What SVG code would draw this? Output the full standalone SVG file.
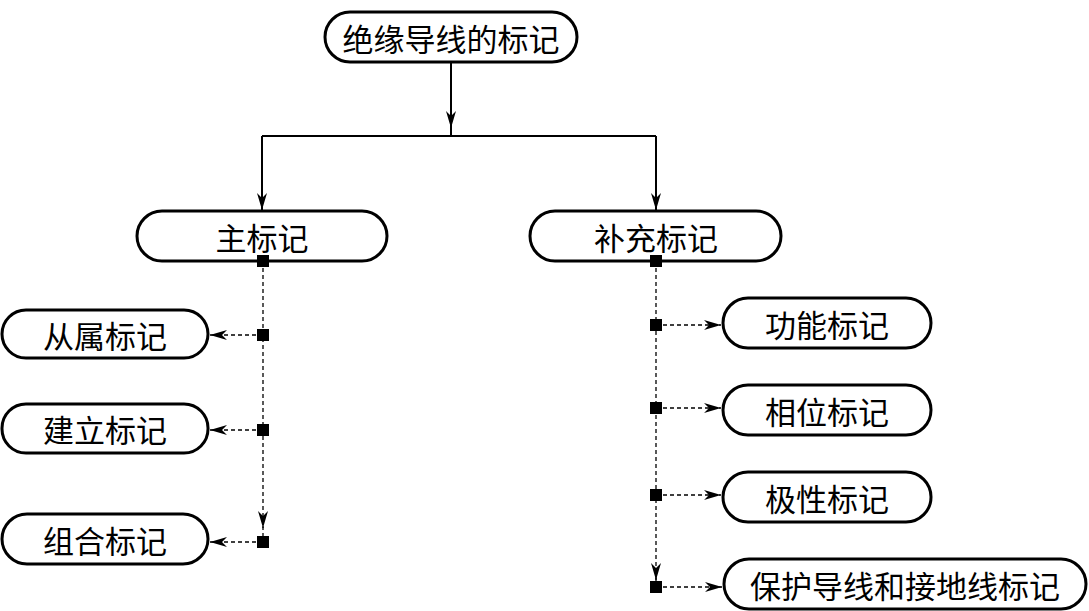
<svg xmlns="http://www.w3.org/2000/svg" width="1089" height="611" viewBox="0 0 1089 611">
<style>
.node{fill:#fff;stroke:#000;stroke-width:3}
.lbl{font-family:"Noto Sans CJK SC","Liberation Serif",serif;font-size:31px;fill:#000;text-anchor:middle;dominant-baseline:central}
.solid{fill:none;stroke:#000;stroke-width:2}
.dash{fill:none;stroke:#000;stroke-width:1.3;stroke-dasharray:4 3}
.sq{fill:#000}
</style>
<defs>
<marker id="arr" markerUnits="userSpaceOnUse" viewBox="0 -6 18 12" markerWidth="18" markerHeight="12" refX="17" refY="0" orient="auto">
<path d="M17,0 L0,-5 L5,0 L0,5 Z" fill="#000"/>
</marker>
</defs>
<rect width="1089" height="611" fill="#fff"/>
<g id="connectors">
<path class="solid" d="M451 62 V128" marker-end="url(#arr)"/>
<path class="solid" d="M451 126 V136 M262 136 H656"/>
<path class="solid" d="M262 136 V210" marker-end="url(#arr)"/>
<path class="solid" d="M656 136 V210" marker-end="url(#arr)"/>
<path class="dash" d="M263 261 V528" marker-end="url(#arr)"/>
<path class="dash" d="M263 526 V542"/>
<path class="dash" d="M263 335 H210" marker-end="url(#arr)"/>
<path class="dash" d="M263 430 H210" marker-end="url(#arr)"/>
<path class="dash" d="M263 542 H210" marker-end="url(#arr)"/>
<path class="dash" d="M656 261 V580" marker-end="url(#arr)"/>
<path class="dash" d="M656 578 V587"/>
<path class="dash" d="M656 325 H721" marker-end="url(#arr)"/>
<path class="dash" d="M656 408 H721" marker-end="url(#arr)"/>
<path class="dash" d="M656 495 H721" marker-end="url(#arr)"/>
<path class="dash" d="M656 587 H722" marker-end="url(#arr)"/>
</g>
<g id="n-root"><rect class="node" x="325" y="12" width="252" height="50" rx="25"/><text class="lbl" x="451" y="37">绝缘导线的标记</text></g>
<g id="n-main"><rect class="node" x="137" y="211" width="250" height="50" rx="25"/><text class="lbl" x="262" y="236">主标记</text></g>
<g id="n-supp"><rect class="node" x="530" y="211" width="251" height="50" rx="25"/><text class="lbl" x="656" y="236">补充标记</text></g>
<g id="n-cs"><rect class="node" x="2" y="310" width="206" height="48" rx="24"/><text class="lbl" x="105" y="334">从属标记</text></g>
<g id="n-jl"><rect class="node" x="2" y="404" width="206" height="49" rx="24"/><text class="lbl" x="105" y="428">建立标记</text></g>
<g id="n-zh"><rect class="node" x="2" y="514" width="206" height="50" rx="25"/><text class="lbl" x="105" y="539">组合标记</text></g>
<g id="n-gn"><rect class="node" x="723" y="298" width="208" height="50" rx="25"/><text class="lbl" x="827" y="323">功能标记</text></g>
<g id="n-xw"><rect class="node" x="723" y="385" width="208" height="50" rx="25"/><text class="lbl" x="827" y="410">相位标记</text></g>
<g id="n-jx"><rect class="node" x="723" y="472" width="208" height="50" rx="25"/><text class="lbl" x="827" y="497">极性标记</text></g>
<g id="n-bh"><rect class="node" x="724" y="559" width="362" height="50" rx="25"/><text class="lbl" x="905" y="584">保护导线和接地线标记</text></g>
<g id="junctions">
<rect class="sq" x="257" y="255" width="12" height="12"/>
<rect class="sq" x="257" y="329" width="12" height="12"/>
<rect class="sq" x="257" y="424" width="12" height="12"/>
<rect class="sq" x="257" y="536" width="12" height="12"/>
<rect class="sq" x="650" y="255" width="12" height="12"/>
<rect class="sq" x="650" y="319" width="12" height="12"/>
<rect class="sq" x="650" y="402" width="12" height="12"/>
<rect class="sq" x="650" y="489" width="12" height="12"/>
<rect class="sq" x="650" y="581" width="12" height="12"/>
</g>
</svg>
